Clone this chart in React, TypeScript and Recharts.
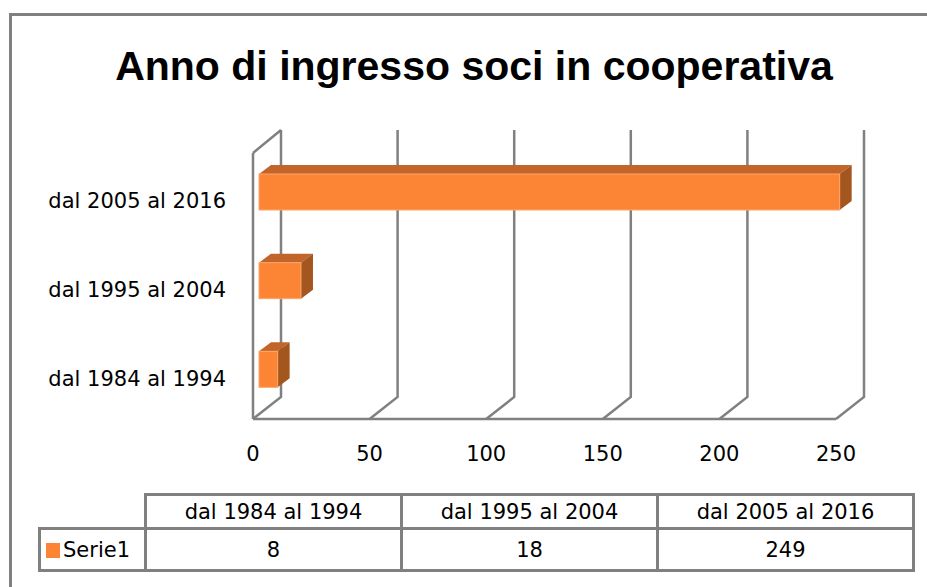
import { BarChart, Bar, XAxis, YAxis, CartesianGrid } from 'recharts';

const categories = ['dal 1984 al 1994', 'dal 1995 al 2004', 'dal 2005 al 2016'];
const values = [8, 18, 249];
const xTicks = [0, 50, 100, 150, 200, 250];
const seriesName = 'Serie1';

const data = categories.map((name, i) => ({ name, value: values[i] }));

const GRAY = '#808080';
const ORANGE = '#FC8535';
const ORANGE_TOP = '#C2652A';
const ORANGE_SIDE = '#A4561F';
const FONT = '"DejaVu Sans", sans-serif';

// 3d depth of the back wall and of the bars
const DX = 28;
const DY = 22;
const BDX = 12;
const BDY = 9;

const gridLine = (props: any) => {
  const { x1, y1, y2 } = props;
  const top = Math.min(y1, y2);
  const bottom = Math.max(y1, y2);
  let d = `M${x1},${bottom} L${x1 + DX},${bottom - DY} L${x1 + DX},${top - DY - 1}`;
  if (Math.abs(x1 - 253) < 1) {
    d += ` M${x1},${top} L${x1 + DX},${top - DY - 1}`;
  }
  return <path key={`g-${x1}`} d={d} stroke={GRAY} strokeWidth={2.5} fill="none" />;
};

const Bar3D = (props: any) => {
  const { x, y, width, height } = props;
  if (!width) return <g />;
  const fx = x + 6;
  const fy = y - 5;
  return (
    <g>
      <polygon
        points={`${fx},${fy} ${fx + BDX},${fy - BDY} ${fx + width + BDX},${fy - BDY} ${fx + width},${fy}`}
        fill={ORANGE_TOP}
      />
      <polygon
        points={`${fx + width},${fy} ${fx + width + BDX},${fy - BDY} ${fx + width + BDX},${fy - BDY + height} ${fx + width},${fy + height}`}
        fill={ORANGE_SIDE}
      />
      <rect x={fx} y={fy} width={width} height={height} fill={ORANGE} stroke="#FDA46A" strokeWidth={1} />
    </g>
  );
};

const XTick = (props: any) => {
  const { x, y, payload } = props;
  return (
    <text x={x} y={y + 42} textAnchor="middle" fontSize={21} fontFamily={FONT} fill="#000">
      {payload.value}
    </text>
  );
};

const YTick = (props: any) => {
  const { x, y, payload } = props;
  return (
    <text x={x - 27} y={y + 11} textAnchor="end" fontSize={21} fontFamily={FONT} fill="#000">
      {payload.value}
    </text>
  );
};

const cell: React.CSSProperties = {
  border: `3px solid ${GRAY}`,
  textAlign: 'center',
  fontFamily: FONT,
  fontSize: 21,
  color: '#000',
  padding: 0,
};

export default function App() {
  return (
    <div
      style={{
        position: 'fixed',
        left: 0,
        top: 0,
        width: 927,
        height: 587,
        overflow: 'hidden',
        background: '#fff',
      }}
    >
      <div
        style={{
          position: 'absolute',
          left: 9,
          top: 13,
          width: 2000,
          height: 2000,
          borderTop: `3px solid ${GRAY}`,
          borderLeft: `3px solid ${GRAY}`,
        }}
      />
      <svg width={927} height={110} style={{ position: 'absolute', left: 0, top: 0 }}>
        <text
          x={474}
          y={80}
          textAnchor="middle"
          fontSize={41}
          fontWeight="bold"
          fontFamily='"Liberation Sans", Arial, sans-serif'
          fill="#000"
        >
          Anno di ingresso soci in cooperativa
        </text>
      </svg>
      <div style={{ position: 'absolute', left: 0, top: 0 }}>
        <BarChart
          width={927}
          height={469}
          data={data}
          layout="vertical"
          margin={{ top: 153, right: 91, left: 0, bottom: 0 }}
        >
          <CartesianGrid horizontal={false} vertical={gridLine} />
          <XAxis
            type="number"
            domain={[0, 250]}
            ticks={xTicks}
            height={50}
            axisLine={{ stroke: GRAY, strokeWidth: 2.5 }}
            tickLine={false}
            tickSize={0}
            tickMargin={0}
            tick={XTick}
          />
          <YAxis
            type="category"
            dataKey="name"
            reversed
            width={253}
            axisLine={{ stroke: GRAY, strokeWidth: 2.5 }}
            tickLine={false}
            tickSize={0}
            tickMargin={0}
            tick={YTick}
          />
          <Bar dataKey="value" barSize={36} shape={Bar3D} isAnimationActive={false} />
        </BarChart>
      </div>
      <table
        style={{
          position: 'absolute',
          left: 38,
          top: 493,
          borderCollapse: 'collapse',
          tableLayout: 'fixed',
          width: 874,
        }}
      >
        <colgroup>
          <col style={{ width: 106 }} />
          <col style={{ width: 256 }} />
          <col style={{ width: 256 }} />
          <col style={{ width: 256 }} />
        </colgroup>
        <tbody>
          <tr style={{ height: 34 }}>
            <td style={{ ...cell, border: 'none' }} />
            {categories.map((c) => (
              <td key={c} style={cell}>
                {c}
              </td>
            ))}
          </tr>
          <tr style={{ height: 42 }}>
            <td style={{ ...cell, textAlign: 'left', whiteSpace: 'nowrap' }}>
              <span
                style={{
                  display: 'inline-block',
                  width: 14,
                  height: 15,
                  background: ORANGE,
                  marginLeft: 5,
                  marginRight: 3,
                  verticalAlign: -1,
                }}
              />
              {seriesName}
            </td>
            {values.map((v, i) => (
              <td key={i} style={cell}>
                {v}
              </td>
            ))}
          </tr>
        </tbody>
      </table>
    </div>
  );
}
